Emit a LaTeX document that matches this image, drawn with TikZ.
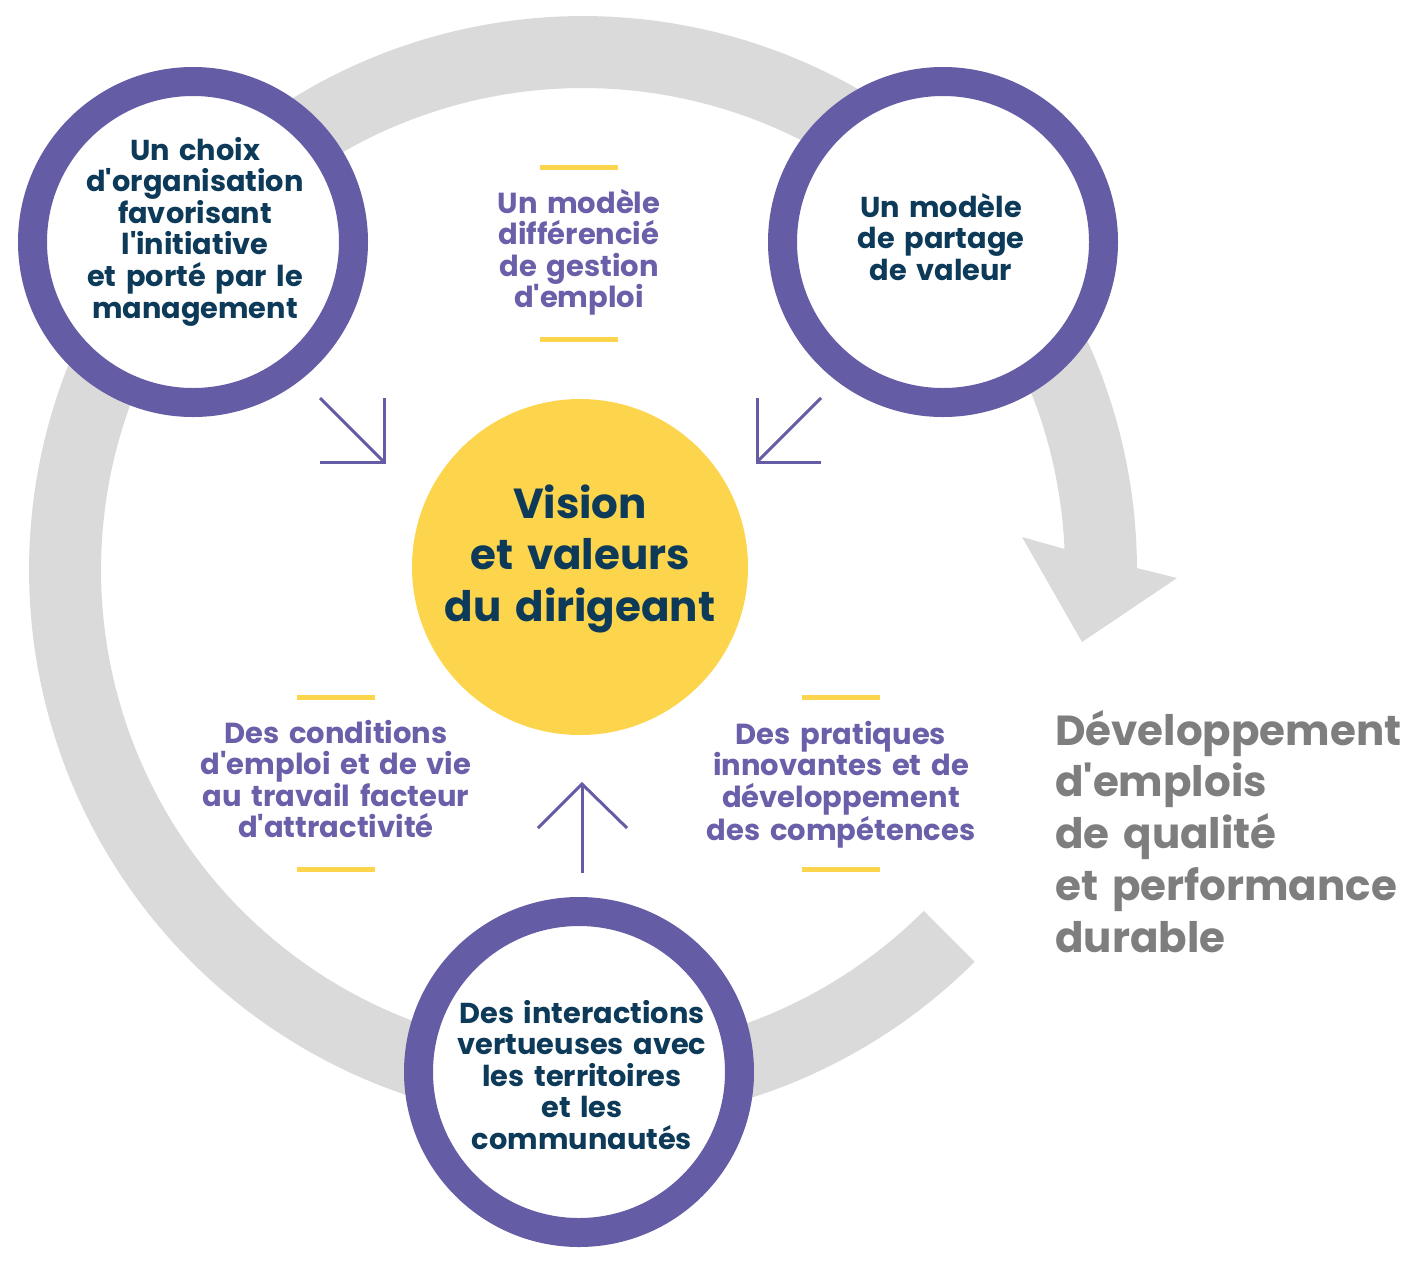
\documentclass[tikz,border=0pt]{standalone}
\usepackage{fontspec}
\setmainfont{Poppins}[Ligatures=TeXOff]
\definecolor{ringgray}{HTML}{DADADA}
\definecolor{ringpurple}{HTML}{645DA5}
\definecolor{navy}{HTML}{0C3A58}
\definecolor{txtpurple}{HTML}{6A60A9}
\definecolor{sun}{HTML}{FDD54D}
\definecolor{txtgray}{HTML}{7E7E7E}
\begin{document}
\lineskiplimit=-30pt
\begin{tikzpicture}[x=1pt,y=-1pt,
  pillar/.style={circle, draw=ringpurple, line width=29pt, fill=white, minimum size=321pt, inner sep=0pt},
  core/.style={circle, fill=sun, minimum size=336pt, inner sep=0pt},
  circtext/.style={anchor=base, text width=320pt, align=center, inner sep=0pt, text=navy,
    font=\fontsize{28.8}{31.6}\selectfont\bfseries},
  midtext/.style={anchor=base, text width=320pt, align=center, inner sep=0pt, text=txtpurple,
    font=\fontsize{29}{31.6}\selectfont\bfseries},
  bigtext/.style={anchor=base, inner sep=0pt,
    font=\fontsize{42}{51.8}\selectfont\bfseries},
  thinarrow/.style={draw=ringpurple, line width=3pt},
  bar/.style={draw=sun, line width=5pt}
]
\useasboundingbox (0,0) rectangle (1423,1267);

% big grey cycle arrow
\fill[ringgray] plot[domain=45:359.8,samples=200] ({583+554*cos(\x)},{570+554*sin(\x)})
  -- (1177,578) -- (1082,642) -- (1022,537)
  -- plot[domain=357.5:45,samples=200] ({583+482*cos(\x)},{570+482*sin(\x)}) -- cycle;

% pillars
\node[pillar] (orga) at (193,242) {};
\node[pillar] (partage) at (943,242) {};
\node[pillar] (territ) at (579,1072) {};
\node[core] (vision) at (580,567) {};

% texts in circles
\node[circtext] (torga) at (195,160) {Un choix\\d'organisation\\favorisant\\l'initiative\\et porté par le\\management};
\node[circtext] (tpartage) at (941,217) {Un modèle\\de partage\\de valeur};
\node[circtext] (tterrit) at (582,1023) {Des interactions\\vertueuses avec\\les territoires\\et les\\communautés};
\node[bigtext, text width=340pt, align=center, text=navy] (tvision) at (580,518) {Vision\\et valeurs\\du dirigeant};

% purple middle texts
\node[midtext] (tgestion) at (579,213) {Un modèle\\différencié\\de gestion\\d'emploi};
\node[midtext] (tcond) at (336,743) {Des conditions\\d'emploi et de vie\\au travail facteur\\d'attractivité};
\node[midtext] (tprat) at (841,744) {Des pratiques\\innovantes et de\\développement\\des compétences};

% result text
\node[bigtext, text width=360pt, align=left, anchor=base west, text=txtgray] (tresult) at (1055,745)
  {Développement\\d'emplois\\de qualité\\et performance\\durable};

% yellow bars
\coordinate (b1a) at (540,167); \coordinate (b1b) at (618,167);
\coordinate (b2a) at (540,339); \coordinate (b2b) at (618,339);
\coordinate (b3a) at (297,697); \coordinate (b3b) at (375,697);
\coordinate (b4a) at (297,869); \coordinate (b4b) at (375,869);
\coordinate (b5a) at (802,697); \coordinate (b5b) at (880,697);
\coordinate (b6a) at (802,869); \coordinate (b6b) at (880,869);
\draw[bar] (b1a) -- (b1b);
\draw[bar] (b2a) -- (b2b);
\draw[bar] (b3a) -- (b3b);
\draw[bar] (b4a) -- (b4b);
\draw[bar] (b5a) -- (b5b);
\draw[bar] (b6a) -- (b6b);

% small purple arrows
\coordinate (p1s) at (320,398); \coordinate (p1e) at (384,462);
\coordinate (p1h) at (320,462); \coordinate (p1v) at (384,398);
\draw[thinarrow] (p1s) -- (p1e);
\draw[thinarrow] (p1h) -- (p1e) -- (p1v);

\coordinate (p2s) at (821,398); \coordinate (p2e) at (757,462);
\coordinate (p2h) at (821,462); \coordinate (p2v) at (757,398);
\draw[thinarrow] (p2s) -- (p2e);
\draw[thinarrow] (p2h) -- (p2e) -- (p2v);

\coordinate (p3s) at (582,873); \coordinate (p3e) at (582,784);
\coordinate (p3l) at (538,828); \coordinate (p3r) at (627,828);
\draw[thinarrow] (p3s) -- (p3e);
\draw[thinarrow] (p3l) -- (p3e) -- (p3r);
\end{tikzpicture}
\end{document}
